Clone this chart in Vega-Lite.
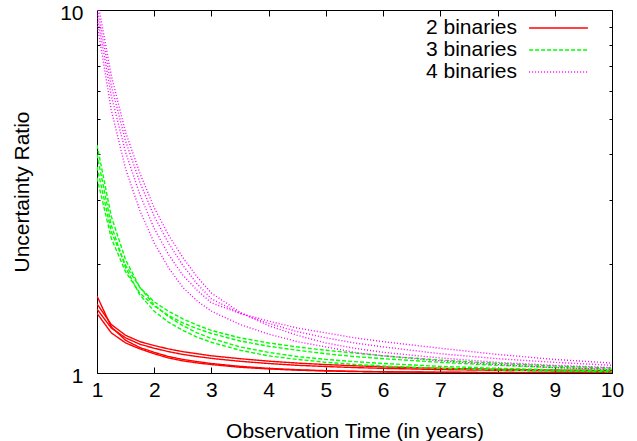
{
"$schema": "https://vega.github.io/schema/vega-lite/v6.json",
"width": 515, "height": 363,
"autosize": {"type": "none"},
"padding": {"left": 97, "top": 10, "right": 25, "bottom": 68},
"background": "white",
"config": {"view": {"stroke": "black", "strokeWidth": 1}, "font": "Liberation Sans",
  "axis": {"grid": false, "domain": false, "labelFont": "Liberation Sans", "titleFont": "Liberation Sans", "labelFontSize": 21, "titleFontSize": 21, "labelColor": "black", "titleColor": "black", "titleFontWeight": "normal", "tickColor": "black", "labelFlush": false, "labelOverlap": false, "labelBound": false}},
"data": {"values": [
{"t":1,"v":1.55,"s":"2 binaries","c":"r1"},{"t":1.25,"v":1.36,"s":"2 binaries","c":"r1"},{"t":1.5,"v":1.27,"s":"2 binaries","c":"r1"},{"t":1.75,"v":1.22,"s":"2 binaries","c":"r1"},{"t":2,"v":1.19,"s":"2 binaries","c":"r1"},{"t":2.25,"v":1.165,"s":"2 binaries","c":"r1"},{"t":2.5,"v":1.145,"s":"2 binaries","c":"r1"},{"t":2.75,"v":1.13,"s":"2 binaries","c":"r1"},{"t":3,"v":1.115,"s":"2 binaries","c":"r1"},{"t":3.5,"v":1.095,"s":"2 binaries","c":"r1"},{"t":4,"v":1.078,"s":"2 binaries","c":"r1"},{"t":4.5,"v":1.065,"s":"2 binaries","c":"r1"},{"t":5,"v":1.055,"s":"2 binaries","c":"r1"},{"t":5.5,"v":1.047,"s":"2 binaries","c":"r1"},{"t":6,"v":1.04,"s":"2 binaries","c":"r1"},{"t":7,"v":1.03,"s":"2 binaries","c":"r1"},{"t":8,"v":1.024,"s":"2 binaries","c":"r1"},{"t":9,"v":1.019,"s":"2 binaries","c":"r1"},{"t":10,"v":1.016,"s":"2 binaries","c":"r1"},
{"t":1,"v":1.50,"s":"2 binaries","c":"r2"},{"t":1.25,"v":1.33,"s":"2 binaries","c":"r2"},{"t":1.5,"v":1.25,"s":"2 binaries","c":"r2"},{"t":1.75,"v":1.2,"s":"2 binaries","c":"r2"},{"t":2,"v":1.17,"s":"2 binaries","c":"r2"},{"t":2.25,"v":1.145,"s":"2 binaries","c":"r2"},{"t":2.5,"v":1.125,"s":"2 binaries","c":"r2"},{"t":2.75,"v":1.11,"s":"2 binaries","c":"r2"},{"t":3,"v":1.097,"s":"2 binaries","c":"r2"},{"t":3.5,"v":1.077,"s":"2 binaries","c":"r2"},{"t":4,"v":1.062,"s":"2 binaries","c":"r2"},{"t":4.5,"v":1.05,"s":"2 binaries","c":"r2"},{"t":5,"v":1.042,"s":"2 binaries","c":"r2"},{"t":5.5,"v":1.035,"s":"2 binaries","c":"r2"},{"t":6,"v":1.03,"s":"2 binaries","c":"r2"},{"t":7,"v":1.022,"s":"2 binaries","c":"r2"},{"t":8,"v":1.017,"s":"2 binaries","c":"r2"},{"t":9,"v":1.013,"s":"2 binaries","c":"r2"},{"t":10,"v":1.011,"s":"2 binaries","c":"r2"},
{"t":1,"v":1.63,"s":"2 binaries","c":"r3"},{"t":1.25,"v":1.34,"s":"2 binaries","c":"r3"},{"t":1.5,"v":1.23,"s":"2 binaries","c":"r3"},{"t":1.75,"v":1.175,"s":"2 binaries","c":"r3"},{"t":2,"v":1.14,"s":"2 binaries","c":"r3"},{"t":2.25,"v":1.11,"s":"2 binaries","c":"r3"},{"t":2.5,"v":1.09,"s":"2 binaries","c":"r3"},{"t":2.75,"v":1.075,"s":"2 binaries","c":"r3"},{"t":3,"v":1.062,"s":"2 binaries","c":"r3"},{"t":3.5,"v":1.043,"s":"2 binaries","c":"r3"},{"t":4,"v":1.03,"s":"2 binaries","c":"r3"},{"t":4.5,"v":1.021,"s":"2 binaries","c":"r3"},{"t":5,"v":1.015,"s":"2 binaries","c":"r3"},{"t":5.5,"v":1.011,"s":"2 binaries","c":"r3"},{"t":6,"v":1.008,"s":"2 binaries","c":"r3"},{"t":7,"v":1.005,"s":"2 binaries","c":"r3"},{"t":8,"v":1.003,"s":"2 binaries","c":"r3"},{"t":9,"v":1.002,"s":"2 binaries","c":"r3"},{"t":10,"v":1.001,"s":"2 binaries","c":"r3"},
{"t":1,"v":1.46,"s":"2 binaries","c":"r4"},{"t":1.25,"v":1.29,"s":"2 binaries","c":"r4"},{"t":1.5,"v":1.21,"s":"2 binaries","c":"r4"},{"t":1.75,"v":1.165,"s":"2 binaries","c":"r4"},{"t":2,"v":1.13,"s":"2 binaries","c":"r4"},{"t":2.25,"v":1.1,"s":"2 binaries","c":"r4"},{"t":2.5,"v":1.08,"s":"2 binaries","c":"r4"},{"t":2.75,"v":1.066,"s":"2 binaries","c":"r4"},{"t":3,"v":1.055,"s":"2 binaries","c":"r4"},{"t":3.5,"v":1.037,"s":"2 binaries","c":"r4"},{"t":4,"v":1.026,"s":"2 binaries","c":"r4"},{"t":4.5,"v":1.018,"s":"2 binaries","c":"r4"},{"t":5,"v":1.013,"s":"2 binaries","c":"r4"},{"t":5.5,"v":1.009,"s":"2 binaries","c":"r4"},{"t":6,"v":1.007,"s":"2 binaries","c":"r4"},{"t":7,"v":1.004,"s":"2 binaries","c":"r4"},{"t":8,"v":1.002,"s":"2 binaries","c":"r4"},{"t":9,"v":1.001,"s":"2 binaries","c":"r4"},{"t":10,"v":1.001,"s":"2 binaries","c":"r4"},
{"t":1,"v":3.7,"s":"3 binaries","c":"g1"},{"t":1.25,"v":2.45,"s":"3 binaries","c":"g1"},{"t":1.5,"v":1.98,"s":"3 binaries","c":"g1"},{"t":1.75,"v":1.72,"s":"3 binaries","c":"g1"},{"t":2,"v":1.57,"s":"3 binaries","c":"g1"},{"t":2.25,"v":1.48,"s":"3 binaries","c":"g1"},{"t":2.5,"v":1.41,"s":"3 binaries","c":"g1"},{"t":2.75,"v":1.355,"s":"3 binaries","c":"g1"},{"t":3,"v":1.31,"s":"3 binaries","c":"g1"},{"t":3.5,"v":1.25,"s":"3 binaries","c":"g1"},{"t":4,"v":1.21,"s":"3 binaries","c":"g1"},{"t":4.5,"v":1.18,"s":"3 binaries","c":"g1"},{"t":5,"v":1.155,"s":"3 binaries","c":"g1"},{"t":5.5,"v":1.135,"s":"3 binaries","c":"g1"},{"t":6,"v":1.115,"s":"3 binaries","c":"g1"},{"t":7,"v":1.085,"s":"3 binaries","c":"g1"},{"t":8,"v":1.063,"s":"3 binaries","c":"g1"},{"t":9,"v":1.045,"s":"3 binaries","c":"g1"},{"t":10,"v":1.032,"s":"3 binaries","c":"g1"},
{"t":1,"v":4.25,"s":"3 binaries","c":"g2"},{"t":1.25,"v":2.7,"s":"3 binaries","c":"g2"},{"t":1.5,"v":2.05,"s":"3 binaries","c":"g2"},{"t":1.75,"v":1.72,"s":"3 binaries","c":"g2"},{"t":2,"v":1.54,"s":"3 binaries","c":"g2"},{"t":2.25,"v":1.43,"s":"3 binaries","c":"g2"},{"t":2.5,"v":1.35,"s":"3 binaries","c":"g2"},{"t":2.75,"v":1.29,"s":"3 binaries","c":"g2"},{"t":3,"v":1.245,"s":"3 binaries","c":"g2"},{"t":3.5,"v":1.18,"s":"3 binaries","c":"g2"},{"t":4,"v":1.14,"s":"3 binaries","c":"g2"},{"t":4.5,"v":1.11,"s":"3 binaries","c":"g2"},{"t":5,"v":1.09,"s":"3 binaries","c":"g2"},{"t":5.5,"v":1.075,"s":"3 binaries","c":"g2"},{"t":6,"v":1.062,"s":"3 binaries","c":"g2"},{"t":7,"v":1.043,"s":"3 binaries","c":"g2"},{"t":8,"v":1.03,"s":"3 binaries","c":"g2"},{"t":9,"v":1.02,"s":"3 binaries","c":"g2"},{"t":10,"v":1.014,"s":"3 binaries","c":"g2"},
{"t":1,"v":4.0,"s":"3 binaries","c":"g3"},{"t":1.25,"v":2.55,"s":"3 binaries","c":"g3"},{"t":1.5,"v":1.95,"s":"3 binaries","c":"g3"},{"t":1.75,"v":1.64,"s":"3 binaries","c":"g3"},{"t":2,"v":1.48,"s":"3 binaries","c":"g3"},{"t":2.25,"v":1.38,"s":"3 binaries","c":"g3"},{"t":2.5,"v":1.31,"s":"3 binaries","c":"g3"},{"t":2.75,"v":1.255,"s":"3 binaries","c":"g3"},{"t":3,"v":1.215,"s":"3 binaries","c":"g3"},{"t":3.5,"v":1.155,"s":"3 binaries","c":"g3"},{"t":4,"v":1.115,"s":"3 binaries","c":"g3"},{"t":4.5,"v":1.09,"s":"3 binaries","c":"g3"},{"t":5,"v":1.07,"s":"3 binaries","c":"g3"},{"t":5.5,"v":1.056,"s":"3 binaries","c":"g3"},{"t":6,"v":1.045,"s":"3 binaries","c":"g3"},{"t":7,"v":1.03,"s":"3 binaries","c":"g3"},{"t":8,"v":1.02,"s":"3 binaries","c":"g3"},{"t":9,"v":1.013,"s":"3 binaries","c":"g3"},{"t":10,"v":1.008,"s":"3 binaries","c":"g3"},
{"t":1,"v":3.45,"s":"3 binaries","c":"g4"},{"t":1.25,"v":2.35,"s":"3 binaries","c":"g4"},{"t":1.5,"v":1.9,"s":"3 binaries","c":"g4"},{"t":1.75,"v":1.66,"s":"3 binaries","c":"g4"},{"t":2,"v":1.53,"s":"3 binaries","c":"g4"},{"t":2.25,"v":1.44,"s":"3 binaries","c":"g4"},{"t":2.5,"v":1.375,"s":"3 binaries","c":"g4"},{"t":2.75,"v":1.325,"s":"3 binaries","c":"g4"},{"t":3,"v":1.285,"s":"3 binaries","c":"g4"},{"t":3.5,"v":1.225,"s":"3 binaries","c":"g4"},{"t":4,"v":1.185,"s":"3 binaries","c":"g4"},{"t":4.5,"v":1.155,"s":"3 binaries","c":"g4"},{"t":5,"v":1.13,"s":"3 binaries","c":"g4"},{"t":5.5,"v":1.11,"s":"3 binaries","c":"g4"},{"t":6,"v":1.095,"s":"3 binaries","c":"g4"},{"t":7,"v":1.07,"s":"3 binaries","c":"g4"},{"t":8,"v":1.05,"s":"3 binaries","c":"g4"},{"t":9,"v":1.035,"s":"3 binaries","c":"g4"},{"t":10,"v":1.025,"s":"3 binaries","c":"g4"},
{"t":1,"v":10.8,"s":"4 binaries","c":"m1"},{"t":1.25,"v":6.6,"s":"4 binaries","c":"m1"},{"t":1.5,"v":4.6,"s":"4 binaries","c":"m1"},{"t":1.75,"v":3.55,"s":"4 binaries","c":"m1"},{"t":2,"v":2.85,"s":"4 binaries","c":"m1"},{"t":2.25,"v":2.4,"s":"4 binaries","c":"m1"},{"t":2.5,"v":2.08,"s":"4 binaries","c":"m1"},{"t":2.75,"v":1.84,"s":"4 binaries","c":"m1"},{"t":3,"v":1.66,"s":"4 binaries","c":"m1"},{"t":3.5,"v":1.47,"s":"4 binaries","c":"m1"},{"t":4,"v":1.35,"s":"4 binaries","c":"m1"},{"t":4.5,"v":1.27,"s":"4 binaries","c":"m1"},{"t":5,"v":1.21,"s":"4 binaries","c":"m1"},{"t":5.5,"v":1.17,"s":"4 binaries","c":"m1"},{"t":6,"v":1.14,"s":"4 binaries","c":"m1"},{"t":7,"v":1.10,"s":"4 binaries","c":"m1"},{"t":8,"v":1.07,"s":"4 binaries","c":"m1"},{"t":9,"v":1.05,"s":"4 binaries","c":"m1"},{"t":10,"v":1.035,"s":"4 binaries","c":"m1"},
{"t":1,"v":10.2,"s":"4 binaries","c":"m2"},{"t":1.25,"v":6.2,"s":"4 binaries","c":"m2"},{"t":1.5,"v":4.35,"s":"4 binaries","c":"m2"},{"t":1.75,"v":3.35,"s":"4 binaries","c":"m2"},{"t":2,"v":2.7,"s":"4 binaries","c":"m2"},{"t":2.25,"v":2.28,"s":"4 binaries","c":"m2"},{"t":2.5,"v":1.98,"s":"4 binaries","c":"m2"},{"t":2.75,"v":1.76,"s":"4 binaries","c":"m2"},{"t":3,"v":1.6,"s":"4 binaries","c":"m2"},{"t":3.5,"v":1.46,"s":"4 binaries","c":"m2"},{"t":4,"v":1.37,"s":"4 binaries","c":"m2"},{"t":4.5,"v":1.30,"s":"4 binaries","c":"m2"},{"t":5,"v":1.25,"s":"4 binaries","c":"m2"},{"t":5.5,"v":1.21,"s":"4 binaries","c":"m2"},{"t":6,"v":1.18,"s":"4 binaries","c":"m2"},{"t":7,"v":1.13,"s":"4 binaries","c":"m2"},{"t":8,"v":1.095,"s":"4 binaries","c":"m2"},{"t":9,"v":1.07,"s":"4 binaries","c":"m2"},{"t":10,"v":1.05,"s":"4 binaries","c":"m2"},
{"t":1,"v":9.7,"s":"4 binaries","c":"m3"},{"t":1.25,"v":5.8,"s":"4 binaries","c":"m3"},{"t":1.5,"v":4.05,"s":"4 binaries","c":"m3"},{"t":1.75,"v":3.1,"s":"4 binaries","c":"m3"},{"t":2,"v":2.5,"s":"4 binaries","c":"m3"},{"t":2.25,"v":2.12,"s":"4 binaries","c":"m3"},{"t":2.5,"v":1.86,"s":"4 binaries","c":"m3"},{"t":2.75,"v":1.69,"s":"4 binaries","c":"m3"},{"t":3,"v":1.56,"s":"4 binaries","c":"m3"},{"t":3.5,"v":1.46,"s":"4 binaries","c":"m3"},{"t":4,"v":1.39,"s":"4 binaries","c":"m3"},{"t":4.5,"v":1.33,"s":"4 binaries","c":"m3"},{"t":5,"v":1.29,"s":"4 binaries","c":"m3"},{"t":5.5,"v":1.25,"s":"4 binaries","c":"m3"},{"t":6,"v":1.22,"s":"4 binaries","c":"m3"},{"t":7,"v":1.17,"s":"4 binaries","c":"m3"},{"t":8,"v":1.125,"s":"4 binaries","c":"m3"},{"t":9,"v":1.09,"s":"4 binaries","c":"m3"},{"t":10,"v":1.065,"s":"4 binaries","c":"m3"},
{"t":1,"v":9.2,"s":"4 binaries","c":"m4"},{"t":1.25,"v":5.3,"s":"4 binaries","c":"m4"},{"t":1.5,"v":3.65,"s":"4 binaries","c":"m4"},{"t":1.75,"v":2.8,"s":"4 binaries","c":"m4"},{"t":2,"v":2.28,"s":"4 binaries","c":"m4"},{"t":2.25,"v":1.95,"s":"4 binaries","c":"m4"},{"t":2.5,"v":1.72,"s":"4 binaries","c":"m4"},{"t":2.75,"v":1.58,"s":"4 binaries","c":"m4"},{"t":3,"v":1.48,"s":"4 binaries","c":"m4"},{"t":3.5,"v":1.36,"s":"4 binaries","c":"m4"},{"t":4,"v":1.28,"s":"4 binaries","c":"m4"},{"t":4.5,"v":1.22,"s":"4 binaries","c":"m4"},{"t":5,"v":1.18,"s":"4 binaries","c":"m4"},{"t":5.5,"v":1.14,"s":"4 binaries","c":"m4"},{"t":6,"v":1.115,"s":"4 binaries","c":"m4"},{"t":7,"v":1.08,"s":"4 binaries","c":"m4"},{"t":8,"v":1.055,"s":"4 binaries","c":"m4"},{"t":9,"v":1.035,"s":"4 binaries","c":"m4"},{"t":10,"v":1.022,"s":"4 binaries","c":"m4"}
]},
"layer": [
{"mark": {"type": "line", "clip": true, "strokeWidth": 1.4},
 "encoding": {
  "x": {"field": "t", "type": "quantitative", "scale": {"domain": [1, 10], "nice": false},
        "axis": {"orient": "bottom", "title": "Observation Time (in years)", "values": [1,2,3,4,5,6,7,8,9,10], "tickSize": -6, "labelPadding": 12, "titlePadding": 20, "format": "d"}},
  "y": {"field": "v", "type": "quantitative", "scale": {"type": "log", "domain": [1, 10], "nice": false},
        "axis": {"orient": "left", "title": "Uncertainty Ratio", "values": [1,2,3,4,5,6,7,8,9,10],
                 "tickSize": {"condition": {"test": "datum.value == 1 || datum.value == 10", "value": -6}, "value": -3},
                 "labelExpr": "(datum.value == 1 || datum.value == 10) ? format(datum.value, 'd') : ''",
                 "labelPadding": 20, "labelOffset": 3, "titlePadding": 27}},
  "color": {"field": "s", "type": "nominal", "scale": {"domain": ["2 binaries","3 binaries","4 binaries"], "range": ["#ff0000","#00ff00","#ff00ff"]},
            "legend": {"title": null, "orient": "none", "legendX": 450, "legendY": 6.5, "padding": 0, "rowPadding": 0,
                       "symbolType": "M-2.8,0H2.8", "symbolSize": 441, "symbolStrokeWidth": 1.4, "labelAlign": "right", "labelOffset": -53,
                       "labelFont": "Liberation Sans", "labelFontSize": 21, "labelColor": "black", "labelLimit": 300}},
  "strokeDash": {"field": "s", "type": "nominal", "scale": {"domain": ["2 binaries","3 binaries","4 binaries"], "range": [[1,0],[4,2],[1,2]]},
            "legend": {"title": null, "orient": "none", "legendX": 450, "legendY": 6.5, "padding": 0, "rowPadding": 0,
                       "symbolType": "M-2.8,0H2.8", "symbolSize": 441, "symbolStrokeWidth": 1.4, "labelAlign": "right", "labelOffset": -53,
                       "labelFont": "Liberation Sans", "labelFontSize": 21, "labelColor": "black", "labelLimit": 300}},
  "detail": {"field": "c", "type": "nominal"}
 }},
{"mark": {"type": "line", "opacity": 0},
 "encoding": {
  "x": {"field": "t", "type": "quantitative", "axis": {"orient": "top", "title": null, "labels": false, "values": [1,2,3,4,5,6,7,8,9,10], "tickSize": -6}},
  "y": {"field": "v", "type": "quantitative", "axis": {"orient": "right", "title": null, "labels": false, "values": [1,2,3,4,5,6,7,8,9,10],
        "tickSize": {"condition": {"test": "datum.value == 1 || datum.value == 10", "value": -6}, "value": -3}}},
  "detail": {"field": "c", "type": "nominal"}
 }}
],
"resolve": {"axis": {"x": "independent", "y": "independent"}}
}
